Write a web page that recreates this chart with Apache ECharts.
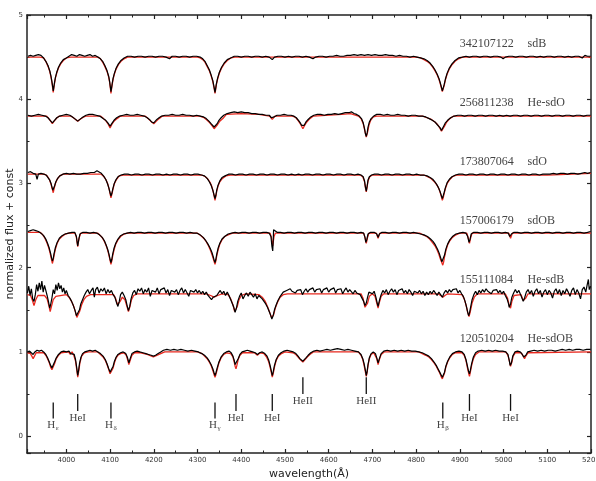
<!DOCTYPE html>
<html><head><meta charset="utf-8">
<script src="https://cdn.jsdelivr.net/npm/echarts@6/dist/echarts.min.js"></script>
<style>html,body{margin:0;padding:0;background:#fff}#c{width:596px;height:481px}</style>
</head><body><div id="c"></div>
<script>
// ---- star labels & vertical offsets (normalized flux + const) ----
const starIds   = ['342107122','256811238','173807064','157006179','155111084','120510204'];
const starTypes = ['sdB','He-sdO','sdO','sdOB','He-sdB','He-sdOB'];
const offsets   = [3.5, 2.8, 2.1, 1.4, 0.7, 0.0];
const labelRise = 1.16;
const idWave = 4900, typeWave = 5055;

// ---- x / y axis ranges ----
const waveMin = 3910, waveMax = 5200;
const fluxMin = -0.2, fluxMax = 5;

// ---- spectral line identifications ----
const lineNames = ['H','HeI','H','H','HeI','HeI','HeII','HeII','H','HeI','HeI'];
const lineSubs  = ['ε','','δ','γ','','','','','β','',''];
const lineWaves = [3970,4026,4102,4340,4388,4471,4541,4686,4861,4922,5016];
const lineBottom = {H:0.21, HeI:0.30, HeII:0.50};
const lineTop    = {H:0.40, HeI:0.50, HeII:0.70};
const lineTextY  = {H:0.13, HeI:0.22, HeII:0.415};

// ---- 342107122 sdB (observed / model), normalized flux ----
const obsA = [[3912,1.01],[3918,1.02],[3924,1.01],[3930,1.02],[3936,1.03],[3942,1.02],[3948,0.99],[3953,0.95],[3958,0.90],[3962,0.84],[3965,0.77],[3967,0.71],[3969,0.64],[3970,0.60],[3971,0.63],[3973,0.70],[3975,0.76],[3978,0.82],[3982,0.88],[3987,0.93],[3993,0.97],[4000,0.99],[4006,1.01],[4012,1.03],[4018,1.02],[4024,1.01],[4030,1.03],[4036,1.02],[4042,1.01],[4048,1.02],[4054,1.03],[4060,1.01],[4066,1.02],[4072,1.00],[4078,0.98],[4083,0.95],[4088,0.90],[4093,0.84],[4097,0.77],[4099,0.71],[4101,0.63],[4102,0.59],[4103,0.62],[4105,0.69],[4107,0.75],[4110,0.81],[4114,0.87],[4119,0.92],[4125,0.96],[4132,0.99],[4140,1.01],[4148,1.01],[4156,1.00],[4164,1.01],[4172,1.01],[4180,1.00],[4188,1.01],[4196,1.01],[4204,1.00],[4212,1.01],[4220,1.01],[4228,1.00],[4236,0.98],[4242,1.01],[4250,1.01],[4258,1.00],[4266,1.01],[4274,1.01],[4282,1.00],[4290,1.01],[4298,1.01],[4306,1.00],[4312,0.98],[4317,0.95],[4322,0.90],[4327,0.85],[4331,0.79],[4335,0.72],[4338,0.64],[4340,0.58],[4341,0.61],[4343,0.68],[4346,0.75],[4350,0.82],[4355,0.88],[4361,0.93],[4368,0.97],[4376,0.99],[4384,1.01],[4392,1.01],[4400,1.00],[4408,1.01],[4416,1.01],[4424,1.00],[4432,1.01],[4440,1.01],[4448,1.00],[4456,1.01],[4464,1.00],[4471,0.97],[4476,1.00],[4484,1.01],[4492,1.01],[4500,1.00],[4508,1.01],[4516,1.00],[4524,1.01],[4532,1.01],[4540,1.00],[4548,1.01],[4556,1.00],[4564,0.98],[4570,1.00],[4578,1.01],[4586,1.01],[4594,1.00],[4602,1.01],[4610,1.01],[4618,1.02],[4626,1.01],[4634,1.01],[4642,1.02],[4650,1.02],[4658,1.03],[4666,1.02],[4674,1.03],[4682,1.02],[4690,1.03],[4698,1.02],[4706,1.03],[4714,1.02],[4722,1.02],[4730,1.03],[4738,1.02],[4746,1.02],[4754,1.01],[4762,1.02],[4770,1.01],[4778,1.01],[4786,1.00],[4794,1.01],[4802,1.00],[4810,0.99],[4818,0.98],[4825,0.96],[4832,0.93],[4838,0.89],[4843,0.85],[4848,0.80],[4852,0.75],[4855,0.70],[4858,0.64],[4860,0.60],[4861,0.60],[4862,0.62],[4864,0.67],[4867,0.74],[4871,0.81],[4876,0.87],[4882,0.92],[4889,0.96],[4897,0.99],[4906,1.00],[4914,1.01],[4922,1.00],[4930,1.01],[4938,1.01],[4946,1.00],[4954,1.01],[4962,1.01],[4970,1.00],[4978,1.01],[4986,1.01],[4994,1.00],[4999,0.98],[5004,1.00],[5012,1.01],[5020,1.01],[5028,1.00],[5036,1.01],[5044,1.01],[5052,1.00],[5060,1.01],[5068,1.01],[5076,1.00],[5084,1.01],[5092,1.00],[5100,1.01],[5108,1.01],[5116,1.00],[5124,1.01],[5132,1.01],[5140,1.00],[5148,1.01],[5156,1.00],[5164,1.01],[5172,1.01],[5180,0.99],[5186,1.02],[5192,1.01],[5199,1.01]];
const modA = [[3912,1.00],[3940,1.00],[3948,0.99],[3953,0.95],[3958,0.89],[3962,0.83],[3965,0.76],[3967,0.70],[3969,0.62],[3970,0.58],[3971,0.62],[3973,0.69],[3975,0.75],[3978,0.81],[3982,0.87],[3987,0.92],[3993,0.96],[4000,0.99],[4010,1.00],[4072,1.00],[4078,0.98],[4083,0.94],[4088,0.89],[4093,0.83],[4097,0.76],[4099,0.70],[4101,0.62],[4102,0.57],[4103,0.61],[4105,0.68],[4107,0.74],[4110,0.80],[4114,0.86],[4119,0.91],[4125,0.95],[4132,0.98],[4140,1.00],[4300,1.00],[4306,0.99],[4312,0.97],[4317,0.94],[4322,0.89],[4327,0.84],[4331,0.78],[4335,0.71],[4338,0.63],[4340,0.57],[4341,0.60],[4343,0.67],[4346,0.74],[4350,0.81],[4355,0.87],[4361,0.92],[4368,0.96],[4376,0.99],[4386,1.00],[4800,1.00],[4810,0.99],[4818,0.97],[4825,0.95],[4832,0.92],[4838,0.88],[4843,0.84],[4848,0.79],[4852,0.74],[4855,0.69],[4858,0.63],[4860,0.59],[4861,0.59],[4862,0.61],[4864,0.66],[4867,0.73],[4871,0.80],[4876,0.86],[4882,0.91],[4889,0.95],[4897,0.98],[4906,1.00],[5200,1.00]];

// ---- 256811238 He-sdO ----
const obsB = [[3912,1.01],[3920,1.00],[3928,1.01],[3936,1.02],[3944,1.01],[3952,1.00],[3958,0.98],[3963,0.95],[3966,0.93],[3968,0.92],[3970,0.93],[3973,0.95],[3978,0.98],[3985,1.00],[3992,1.01],[4000,1.02],[4008,1.01],[4014,0.99],[4019,0.97],[4023,0.95],[4026,0.94],[4029,0.95],[4033,0.97],[4038,0.99],[4045,1.01],[4052,1.02],[4060,1.02],[4068,1.01],[4076,1.00],[4084,0.97],[4090,0.95],[4095,0.92],[4098,0.90],[4100,0.88],[4102,0.89],[4105,0.92],[4109,0.95],[4115,0.98],[4122,1.00],[4130,1.01],[4138,1.02],[4146,1.01],[4154,1.01],[4162,1.02],[4170,1.01],[4178,1.00],[4185,0.98],[4190,0.96],[4195,0.93],[4198,0.92],[4200,0.92],[4203,0.93],[4207,0.96],[4212,0.98],[4218,1.00],[4226,1.01],[4234,1.01],[4242,1.02],[4250,1.01],[4258,1.01],[4266,1.02],[4274,1.01],[4282,1.01],[4290,1.00],[4298,1.01],[4306,1.00],[4314,0.99],[4320,0.97],[4326,0.94],[4331,0.91],[4335,0.89],[4338,0.87],[4340,0.86],[4342,0.88],[4345,0.91],[4349,0.95],[4354,0.98],[4360,1.01],[4368,1.03],[4376,1.04],[4384,1.05],[4392,1.04],[4400,1.05],[4408,1.04],[4416,1.04],[4424,1.03],[4432,1.03],[4440,1.02],[4448,1.02],[4456,1.01],[4464,1.01],[4469,0.98],[4472,0.96],[4475,0.99],[4482,1.01],[4490,1.01],[4498,1.02],[4506,1.01],[4514,1.01],[4520,1.00],[4526,0.98],[4531,0.95],[4535,0.92],[4538,0.89],[4541,0.87],[4544,0.89],[4548,0.93],[4553,0.96],[4559,0.99],[4566,1.01],[4574,1.02],[4582,1.02],[4590,1.01],[4598,1.02],[4606,1.02],[4614,1.03],[4622,1.02],[4630,1.03],[4638,1.04],[4646,1.04],[4652,1.05],[4658,1.03],[4664,1.02],[4670,1.00],[4675,0.97],[4679,0.92],[4682,0.85],[4684,0.79],[4686,0.76],[4688,0.80],[4690,0.87],[4693,0.93],[4697,0.97],[4703,1.00],[4710,1.02],[4718,1.02],[4726,1.01],[4734,1.02],[4742,1.01],[4750,1.01],[4758,1.02],[4766,1.01],[4774,1.01],[4782,1.00],[4790,1.01],[4798,1.01],[4806,1.00],[4814,1.00],[4822,0.99],[4830,0.97],[4837,0.95],[4843,0.93],[4848,0.90],[4852,0.88],[4855,0.86],[4858,0.83],[4860,0.84],[4863,0.88],[4867,0.92],[4872,0.95],[4879,0.98],[4887,1.00],[4895,1.01],[4903,1.01],[4911,1.00],[4919,1.01],[4927,1.01],[4935,1.00],[4943,1.01],[4951,1.01],[4959,1.00],[4967,1.01],[4975,1.01],[4983,1.00],[4991,1.01],[4999,1.00],[5007,1.01],[5015,1.00],[5023,1.01],[5031,1.01],[5039,1.00],[5047,1.01],[5055,1.01],[5063,1.00],[5071,1.01],[5079,1.01],[5087,1.00],[5095,1.01],[5103,1.01],[5111,1.00],[5119,1.01],[5127,1.01],[5135,1.00],[5143,1.01],[5151,1.01],[5159,1.00],[5167,1.01],[5175,1.01],[5183,1.00],[5191,1.01],[5199,1.01]];
const modB = [[3912,1.00],[3955,1.00],[3960,0.97],[3964,0.94],[3968,0.91],[3972,0.94],[3977,0.97],[3984,1.00],[4010,1.00],[4016,0.98],[4021,0.96],[4026,0.94],[4031,0.96],[4037,0.98],[4044,1.00],[4078,1.00],[4085,0.97],[4091,0.94],[4096,0.90],[4100,0.86],[4104,0.90],[4109,0.94],[4116,0.97],[4124,1.00],[4180,1.00],[4187,0.97],[4193,0.94],[4200,0.91],[4206,0.94],[4212,0.97],[4220,1.00],[4305,1.00],[4315,0.98],[4322,0.95],[4328,0.92],[4334,0.88],[4338,0.85],[4340,0.84],[4342,0.86],[4346,0.90],[4351,0.94],[4358,0.97],[4366,1.02],[4400,1.03],[4440,1.02],[4465,1.00],[4471,0.96],[4477,1.00],[4518,1.00],[4525,0.98],[4531,0.94],[4536,0.90],[4541,0.85],[4545,0.89],[4550,0.93],[4557,0.97],[4565,1.00],[4630,1.02],[4650,1.03],[4668,1.00],[4674,0.97],[4679,0.91],[4683,0.82],[4686,0.75],[4689,0.81],[4692,0.89],[4696,0.95],[4702,0.99],[4710,1.00],[4815,1.00],[4825,0.98],[4835,0.96],[4843,0.93],[4849,0.90],[4854,0.86],[4858,0.82],[4861,0.83],[4865,0.88],[4870,0.93],[4877,0.97],[4886,1.00],[5200,1.00]];

// ---- 173807064 sdO ----
const obsC = [[3912,1.03],[3918,1.04],[3924,1.02],[3930,1.01],[3933,0.95],[3936,1.01],[3942,1.02],[3948,1.01],[3954,1.00],[3958,0.98],[3962,0.94],[3965,0.90],[3967,0.86],[3969,0.82],[3970,0.81],[3971,0.83],[3973,0.87],[3976,0.92],[3980,0.96],[3985,0.99],[3992,1.01],[4000,1.02],[4008,1.01],[4016,1.02],[4024,1.01],[4032,1.01],[4040,1.02],[4048,1.02],[4056,1.03],[4064,1.03],[4070,1.05],[4074,1.04],[4080,1.02],[4085,0.99],[4090,0.95],[4094,0.90],[4097,0.85],[4100,0.79],[4102,0.75],[4104,0.78],[4106,0.83],[4109,0.89],[4113,0.94],[4118,0.98],[4125,1.00],[4133,1.01],[4141,1.01],[4149,1.00],[4157,1.01],[4165,1.01],[4173,1.00],[4181,1.01],[4189,1.01],[4197,1.00],[4205,1.01],[4213,1.01],[4221,1.00],[4229,1.01],[4237,1.00],[4245,1.01],[4253,1.01],[4261,1.00],[4269,1.01],[4277,1.01],[4285,1.00],[4293,1.01],[4301,1.01],[4309,1.00],[4316,0.99],[4322,0.96],[4327,0.92],[4331,0.88],[4335,0.82],[4338,0.76],[4340,0.72],[4342,0.76],[4344,0.82],[4347,0.88],[4351,0.93],[4356,0.97],[4363,0.99],[4371,1.01],[4379,1.01],[4387,1.00],[4395,1.01],[4403,1.01],[4411,1.00],[4419,1.01],[4427,1.01],[4435,1.00],[4443,1.01],[4451,1.01],[4459,1.00],[4467,1.01],[4475,1.01],[4483,1.00],[4491,1.01],[4499,1.01],[4507,1.00],[4515,1.01],[4523,1.00],[4531,1.01],[4539,1.00],[4547,1.01],[4555,1.01],[4563,1.00],[4571,1.01],[4579,1.01],[4587,1.00],[4595,1.01],[4603,1.01],[4611,1.00],[4619,1.01],[4627,1.01],[4635,1.00],[4643,1.01],[4651,1.01],[4659,1.00],[4667,1.01],[4674,1.00],[4679,0.98],[4682,0.93],[4684,0.86],[4686,0.81],[4688,0.87],[4690,0.94],[4693,0.98],[4698,1.00],[4705,1.01],[4713,1.01],[4721,1.00],[4729,1.01],[4737,1.01],[4745,1.00],[4753,1.01],[4761,1.01],[4769,1.00],[4777,1.01],[4785,1.01],[4793,1.00],[4801,1.01],[4809,1.00],[4817,1.00],[4825,0.99],[4832,0.97],[4838,0.95],[4843,0.92],[4848,0.88],[4852,0.84],[4855,0.80],[4858,0.75],[4860,0.72],[4862,0.74],[4864,0.79],[4867,0.85],[4871,0.91],[4876,0.95],[4882,0.98],[4890,1.00],[4898,1.01],[4906,1.01],[4914,1.00],[4922,1.01],[4930,1.01],[4938,1.00],[4946,1.01],[4954,1.01],[4962,1.00],[4970,1.01],[4978,1.01],[4986,1.00],[4994,1.01],[5002,1.01],[5010,1.00],[5018,1.01],[5026,1.01],[5034,1.00],[5042,1.01],[5050,1.01],[5058,1.00],[5066,1.01],[5074,1.01],[5082,1.00],[5090,1.01],[5098,1.01],[5106,1.01],[5114,1.02],[5122,1.01],[5130,1.02],[5138,1.02],[5146,1.01],[5154,1.02],[5162,1.02],[5170,1.01],[5178,1.02],[5186,1.03],[5192,1.02],[5199,1.03]];
const modC = [[3912,1.01],[3950,1.01],[3956,0.99],[3961,0.95],[3965,0.89],[3968,0.83],[3970,0.79],[3972,0.84],[3975,0.90],[3979,0.95],[3985,0.99],[3993,1.01],[4080,1.01],[4086,0.98],[4091,0.94],[4095,0.89],[4098,0.83],[4100,0.78],[4102,0.73],[4104,0.77],[4107,0.84],[4110,0.90],[4115,0.95],[4121,0.99],[4130,1.00],[4310,1.00],[4318,0.98],[4324,0.95],[4329,0.91],[4333,0.86],[4336,0.80],[4338,0.75],[4340,0.70],[4342,0.75],[4344,0.81],[4347,0.87],[4351,0.92],[4357,0.96],[4365,0.99],[4375,1.00],[4672,1.00],[4678,0.98],[4682,0.92],[4684,0.85],[4686,0.80],[4688,0.86],[4690,0.93],[4694,0.98],[4700,1.00],[4818,1.00],[4826,0.98],[4834,0.96],[4840,0.93],[4845,0.90],[4850,0.86],[4854,0.81],[4857,0.76],[4860,0.70],[4862,0.73],[4864,0.78],[4867,0.84],[4871,0.90],[4876,0.94],[4883,0.98],[4892,1.00],[5100,1.00],[5200,1.02]];

// ---- 157006179 sdOB ----
const obsD = [[3912,1.03],[3918,1.04],[3924,1.05],[3930,1.04],[3936,1.03],[3942,1.01],[3948,0.98],[3953,0.94],[3957,0.89],[3961,0.83],[3964,0.77],[3966,0.72],[3968,0.68],[3970,0.71],[3972,0.77],[3975,0.84],[3979,0.90],[3984,0.95],[3990,0.98],[3997,1.00],[4005,1.01],[4013,1.02],[4019,1.02],[4023,0.97],[4025,0.89],[4026,0.86],[4028,0.92],[4031,1.00],[4038,1.02],[4046,1.02],[4054,1.01],[4062,1.02],[4070,1.01],[4076,0.99],[4082,0.96],[4087,0.92],[4091,0.87],[4095,0.81],[4098,0.75],[4100,0.70],[4102,0.66],[4104,0.70],[4106,0.76],[4109,0.83],[4113,0.89],[4118,0.94],[4124,0.98],[4131,1.00],[4139,1.01],[4147,1.02],[4155,1.01],[4163,1.02],[4171,1.02],[4179,1.01],[4187,1.02],[4195,1.02],[4203,1.01],[4211,1.02],[4219,1.02],[4227,1.01],[4235,1.02],[4243,1.02],[4251,1.01],[4259,1.02],[4267,1.02],[4275,1.01],[4283,1.02],[4291,1.01],[4299,1.01],[4306,0.99],[4313,0.96],[4319,0.92],[4324,0.88],[4329,0.83],[4333,0.78],[4336,0.73],[4338,0.69],[4340,0.66],[4342,0.70],[4344,0.76],[4347,0.83],[4351,0.89],[4356,0.94],[4362,0.97],[4370,1.00],[4378,1.01],[4386,1.02],[4394,1.01],[4402,1.02],[4410,1.02],[4418,1.01],[4426,1.02],[4434,1.02],[4442,1.01],[4450,1.02],[4458,1.02],[4464,1.01],[4468,0.97],[4470,0.86],[4472,0.80],[4473,0.90],[4474,1.05],[4476,1.03],[4482,1.02],[4490,1.02],[4498,1.01],[4506,1.02],[4514,1.02],[4522,1.01],[4530,1.02],[4538,1.02],[4546,1.01],[4554,1.02],[4562,1.02],[4570,1.01],[4578,1.02],[4586,1.02],[4594,1.01],[4602,1.02],[4610,1.02],[4618,1.01],[4626,1.02],[4634,1.02],[4642,1.01],[4650,1.02],[4658,1.02],[4666,1.01],[4674,1.02],[4680,1.01],[4683,0.96],[4685,0.90],[4687,0.93],[4690,1.00],[4696,1.02],[4704,1.02],[4710,1.00],[4713,0.96],[4716,1.00],[4722,1.02],[4730,1.02],[4738,1.01],[4746,1.02],[4754,1.02],[4762,1.01],[4770,1.02],[4778,1.02],[4786,1.01],[4794,1.02],[4802,1.01],[4810,1.00],[4818,0.99],[4826,0.97],[4833,0.94],[4839,0.91],[4844,0.87],[4849,0.82],[4853,0.77],[4856,0.72],[4859,0.67],[4861,0.65],[4863,0.69],[4865,0.75],[4868,0.82],[4872,0.88],[4877,0.93],[4883,0.97],[4891,1.00],[4899,1.01],[4907,1.02],[4914,1.01],[4918,0.97],[4921,0.90],[4923,0.93],[4926,1.00],[4932,1.02],[4940,1.02],[4948,1.01],[4956,1.02],[4964,1.02],[4972,1.01],[4980,1.02],[4988,1.02],[4996,1.01],[5004,1.02],[5011,1.01],[5014,0.97],[5016,0.96],[5018,1.00],[5024,1.02],[5032,1.02],[5040,1.01],[5048,1.02],[5056,1.02],[5064,1.01],[5072,1.02],[5080,1.02],[5088,1.01],[5096,1.02],[5104,1.02],[5112,1.01],[5120,1.02],[5128,1.02],[5136,1.01],[5144,1.02],[5152,1.02],[5160,1.01],[5168,1.02],[5176,1.02],[5184,1.01],[5192,1.02],[5199,1.03]];
const modD = [[3912,1.02],[3940,1.02],[3946,0.99],[3951,0.95],[3956,0.89],[3960,0.83],[3963,0.77],[3966,0.70],[3968,0.65],[3970,0.69],[3972,0.75],[3975,0.82],[3979,0.89],[3984,0.94],[3990,0.97],[3998,1.00],[4006,1.01],[4020,1.01],[4023,0.96],[4026,0.85],[4029,0.95],[4033,1.01],[4072,1.01],[4078,0.98],[4083,0.95],[4088,0.90],[4092,0.85],[4096,0.78],[4099,0.71],[4102,0.64],[4104,0.68],[4106,0.74],[4109,0.81],[4113,0.88],[4118,0.93],[4124,0.97],[4132,1.00],[4140,1.01],[4300,1.01],[4308,0.98],[4314,0.95],[4320,0.91],[4325,0.86],[4330,0.80],[4334,0.74],[4337,0.69],[4340,0.64],[4342,0.68],[4344,0.74],[4347,0.81],[4351,0.88],[4356,0.93],[4362,0.97],[4370,0.99],[4380,1.01],[4466,1.01],[4469,0.96],[4472,0.86],[4475,0.97],[4478,1.01],[4680,1.01],[4683,0.96],[4686,0.89],[4689,0.96],[4692,1.01],[4709,1.01],[4713,0.95],[4717,1.01],[4808,1.01],[4816,0.99],[4824,0.97],[4831,0.94],[4837,0.90],[4843,0.86],[4848,0.81],[4852,0.76],[4855,0.71],[4858,0.67],[4861,0.63],[4863,0.67],[4865,0.73],[4868,0.80],[4872,0.87],[4877,0.92],[4883,0.96],[4891,0.99],[4900,1.01],[4916,1.01],[4919,0.96],[4922,0.89],[4925,0.96],[4928,1.01],[5012,1.01],[5016,0.95],[5020,1.01],[5200,1.01]];

// ---- 155111084 He-sdB ----
const obsE = [[3911,1.00],[3914,1.08],[3917,0.97],[3920,1.05],[3923,0.93],[3926,0.90],[3929,0.98],[3932,1.10],[3935,1.02],[3938,1.12],[3941,1.04],[3944,1.14],[3947,1.01],[3950,1.09],[3953,1.03],[3956,0.97],[3959,0.90],[3962,0.82],[3964,0.86],[3967,0.94],[3970,1.04],[3973,0.99],[3976,1.10],[3979,1.03],[3982,1.12],[3985,1.05],[3988,1.09],[3991,1.01],[3994,1.06],[3997,0.99],[4000,1.03],[4004,0.97],[4008,0.94],[4012,0.90],[4016,0.85],[4020,0.79],[4023,0.73],[4025,0.71],[4027,0.74],[4030,0.80],[4033,0.87],[4037,0.92],[4041,0.97],[4045,1.01],[4049,1.04],[4053,0.99],[4057,1.03],[4061,1.06],[4064,0.95],[4067,1.04],[4071,1.07],[4075,1.00],[4079,1.05],[4083,1.02],[4087,1.06],[4091,0.99],[4095,1.04],[4099,1.00],[4103,1.03],[4107,0.98],[4111,0.95],[4115,0.88],[4118,0.84],[4121,0.90],[4124,0.98],[4128,1.01],[4132,0.97],[4136,0.92],[4139,0.85],[4142,0.79],[4145,0.84],[4148,0.93],[4152,1.00],[4156,1.03],[4160,0.98],[4164,1.05],[4168,1.02],[4172,1.06],[4176,0.99],[4180,1.04],[4184,1.01],[4188,1.06],[4192,0.96],[4196,1.03],[4200,1.05],[4204,1.01],[4208,1.06],[4212,0.99],[4216,1.04],[4220,1.02],[4224,1.06],[4228,1.00],[4232,1.04],[4236,0.97],[4240,1.03],[4244,1.05],[4248,1.01],[4252,1.04],[4256,0.98],[4260,1.03],[4264,1.06],[4268,1.00],[4272,1.04],[4276,1.02],[4280,0.96],[4284,1.03],[4288,1.05],[4292,1.01],[4296,1.04],[4300,1.00],[4304,1.03],[4308,0.99],[4312,1.02],[4316,0.98],[4320,1.01],[4324,0.97],[4328,0.95],[4332,0.92],[4336,0.95],[4340,0.93],[4344,0.97],[4348,1.00],[4352,1.03],[4356,0.99],[4360,1.02],[4364,0.97],[4368,1.01],[4372,0.97],[4376,0.92],[4380,0.87],[4383,0.83],[4386,0.77],[4389,0.82],[4392,0.90],[4396,0.96],[4400,1.00],[4404,0.93],[4408,0.97],[4412,1.00],[4416,0.96],[4420,1.01],[4424,0.98],[4428,0.95],[4432,0.99],[4436,0.93],[4440,0.97],[4444,0.95],[4448,0.93],[4452,0.90],[4456,0.87],[4460,0.83],[4464,0.78],[4467,0.74],[4470,0.69],[4473,0.73],[4476,0.80],[4480,0.86],[4484,0.91],[4488,0.95],[4492,0.98],[4496,1.01],[4500,0.99],[4504,1.03],[4508,1.01],[4512,1.05],[4516,1.02],[4520,1.04],[4524,1.00],[4528,1.03],[4532,1.01],[4536,1.04],[4540,0.98],[4544,1.02],[4548,1.05],[4552,1.01],[4556,1.04],[4560,1.02],[4564,1.06],[4568,1.01],[4572,1.04],[4576,1.02],[4580,1.05],[4584,1.00],[4588,1.04],[4592,1.02],[4596,1.06],[4600,1.01],[4604,1.04],[4608,1.03],[4612,1.06],[4616,1.00],[4620,1.04],[4624,1.02],[4628,1.05],[4632,0.99],[4636,1.03],[4640,1.06],[4644,1.01],[4648,1.04],[4652,1.02],[4656,0.99],[4660,1.03],[4664,1.00],[4668,1.02],[4672,0.98],[4676,0.96],[4680,0.90],[4683,0.85],[4686,0.88],[4689,0.95],[4692,1.01],[4696,1.03],[4700,0.99],[4704,1.02],[4708,0.95],[4711,0.88],[4713,0.84],[4716,0.91],[4720,0.98],[4724,1.03],[4728,1.00],[4732,1.04],[4736,0.98],[4740,1.02],[4744,1.05],[4748,1.01],[4752,1.04],[4756,0.98],[4760,1.03],[4764,1.01],[4768,1.05],[4772,1.00],[4776,1.03],[4780,0.99],[4784,1.04],[4788,1.01],[4792,0.97],[4796,1.02],[4800,1.04],[4804,1.00],[4808,1.03],[4812,0.99],[4816,1.02],[4820,0.97],[4824,1.01],[4828,0.98],[4832,1.02],[4836,0.99],[4840,1.03],[4844,1.00],[4848,0.97],[4852,1.01],[4856,0.98],[4860,0.95],[4864,1.00],[4868,1.03],[4872,1.00],[4876,1.04],[4880,1.01],[4884,1.04],[4888,1.02],[4892,1.05],[4896,1.00],[4900,1.03],[4904,0.99],[4908,0.96],[4912,0.90],[4915,0.84],[4918,0.77],[4920,0.73],[4922,0.76],[4925,0.84],[4928,0.92],[4932,0.98],[4936,1.02],[4940,0.98],[4944,1.03],[4948,1.00],[4952,1.04],[4956,1.01],[4960,1.05],[4964,1.02],[4968,1.04],[4972,0.99],[4976,1.03],[4980,1.01],[4984,1.04],[4988,1.00],[4992,1.03],[4996,0.99],[5000,1.02],[5004,0.97],[5008,0.93],[5011,0.88],[5013,0.83],[5016,0.87],[5019,0.95],[5023,1.00],[5027,1.04],[5031,1.00],[5035,1.03],[5039,0.98],[5042,0.94],[5045,0.90],[5048,0.94],[5052,1.01],[5056,1.04],[5060,0.99],[5064,1.03],[5068,0.96],[5072,1.02],[5076,1.05],[5080,0.99],[5084,1.03],[5088,0.95],[5092,1.01],[5096,1.04],[5100,0.98],[5104,1.03],[5108,1.00],[5112,0.94],[5116,1.02],[5120,1.05],[5124,0.99],[5128,1.04],[5132,0.97],[5136,1.03],[5140,0.99],[5144,1.05],[5148,1.01],[5152,0.96],[5156,1.03],[5160,1.06],[5164,0.98],[5168,1.04],[5172,1.00],[5176,0.93],[5180,1.04],[5184,1.07],[5188,1.01],[5191,1.09],[5194,1.16],[5196,1.04],[5199,1.08]];
const modE = [[3911,0.98],[3918,0.97],[3922,0.92],[3926,0.85],[3930,0.92],[3935,0.97],[3950,0.97],[3956,0.93],[3960,0.85],[3963,0.78],[3966,0.84],[3970,0.92],[3976,0.96],[4000,0.98],[4006,0.95],[4012,0.90],[4017,0.84],[4021,0.77],[4024,0.71],[4026,0.70],[4028,0.73],[4031,0.79],[4035,0.86],[4040,0.92],[4046,0.96],[4055,0.98],[4108,0.98],[4113,0.93],[4117,0.86],[4120,0.84],[4123,0.90],[4128,0.95],[4134,0.92],[4138,0.85],[4142,0.78],[4145,0.83],[4149,0.92],[4154,0.97],[4162,0.99],[4320,0.99],[4330,0.97],[4338,0.95],[4346,0.97],[4356,0.99],[4370,0.98],[4376,0.93],[4381,0.86],[4385,0.78],[4388,0.77],[4391,0.84],[4395,0.92],[4400,0.97],[4410,0.99],[4440,0.98],[4448,0.95],[4455,0.90],[4460,0.84],[4465,0.77],[4469,0.71],[4471,0.69],[4474,0.74],[4478,0.82],[4483,0.89],[4489,0.95],[4496,0.98],[4506,0.99],[4674,0.99],[4679,0.93],[4683,0.83],[4686,0.81],[4689,0.88],[4693,0.96],[4700,0.99],[4706,0.96],[4710,0.88],[4713,0.82],[4716,0.89],[4720,0.96],[4726,0.99],[4850,0.99],[4856,0.97],[4861,0.95],[4866,0.97],[4872,0.99],[4905,0.98],[4910,0.93],[4914,0.86],[4918,0.77],[4921,0.72],[4924,0.78],[4928,0.88],[4933,0.95],[4940,0.99],[5004,0.99],[5009,0.94],[5013,0.85],[5016,0.82],[5019,0.90],[5024,0.97],[5040,0.98],[5045,0.91],[5048,0.89],[5051,0.94],[5056,0.99],[5200,0.99]];

// ---- 120510204 He-sdOB ----
const obsF = [[3911,1.00],[3916,1.01],[3920,0.99],[3924,0.97],[3928,1.00],[3933,1.02],[3938,1.01],[3943,1.02],[3948,1.00],[3953,0.97],[3957,0.93],[3961,0.88],[3964,0.84],[3967,0.81],[3970,0.83],[3973,0.88],[3977,0.93],[3982,0.97],[3988,1.00],[3994,1.01],[4000,1.00],[4006,1.01],[4010,0.98],[4014,1.00],[4018,0.97],[4021,0.91],[4023,0.84],[4025,0.76],[4026,0.72],[4028,0.78],[4030,0.86],[4033,0.93],[4037,0.98],[4042,1.00],[4048,1.01],[4054,1.02],[4060,1.01],[4066,1.02],[4072,1.00],[4078,0.98],[4084,0.95],[4089,0.91],[4093,0.86],[4097,0.80],[4100,0.76],[4102,0.74],[4104,0.77],[4107,0.83],[4110,0.89],[4114,0.94],[4118,0.97],[4121,0.96],[4124,0.99],[4130,1.00],[4136,0.98],[4140,0.93],[4143,0.87],[4146,0.92],[4150,0.98],[4156,1.00],[4162,1.01],[4168,1.00],[4175,0.99],[4182,0.98],[4188,0.97],[4194,0.96],[4199,0.95],[4204,0.96],[4210,0.98],[4216,1.00],[4222,1.02],[4230,1.03],[4238,1.02],[4246,1.03],[4254,1.02],[4262,1.03],[4270,1.02],[4278,1.01],[4286,1.02],[4294,1.01],[4302,1.00],[4310,0.98],[4316,0.96],[4322,0.93],[4327,0.89],[4331,0.85],[4335,0.80],[4338,0.75],[4340,0.72],[4342,0.75],[4345,0.81],[4349,0.88],[4354,0.94],[4360,0.98],[4366,1.00],[4372,1.01],[4377,0.99],[4381,0.95],[4384,0.90],[4386,0.85],[4388,0.83],[4390,0.86],[4393,0.92],[4397,0.97],[4402,1.00],[4408,1.01],[4414,1.02],[4420,1.01],[4426,1.00],[4432,0.99],[4437,0.97],[4442,0.99],[4448,1.00],[4454,0.98],[4459,0.95],[4463,0.90],[4466,0.84],[4469,0.77],[4471,0.72],[4473,0.76],[4476,0.84],[4480,0.91],[4485,0.96],[4491,0.99],[4498,1.01],[4505,1.02],[4512,1.01],[4519,1.00],[4525,0.98],[4530,0.95],[4534,0.92],[4538,0.90],[4541,0.89],[4544,0.90],[4548,0.93],[4553,0.96],[4559,0.99],[4566,1.01],[4573,1.02],[4580,1.01],[4588,1.02],[4596,1.03],[4604,1.02],[4612,1.03],[4620,1.04],[4628,1.03],[4636,1.02],[4644,1.03],[4652,1.02],[4660,1.01],[4668,1.00],[4674,0.97],[4678,0.92],[4681,0.86],[4684,0.78],[4686,0.72],[4688,0.77],[4690,0.85],[4693,0.93],[4697,0.98],[4702,1.00],[4707,0.98],[4710,0.93],[4713,0.87],[4716,0.92],[4720,0.98],[4726,1.01],[4734,1.02],[4742,1.01],[4750,1.02],[4758,1.01],[4766,1.02],[4774,1.01],[4782,1.02],[4790,1.01],[4798,1.01],[4806,1.00],[4814,0.99],[4822,0.97],[4829,0.95],[4835,0.92],[4841,0.88],[4846,0.84],[4850,0.80],[4854,0.76],[4857,0.73],[4860,0.70],[4862,0.71],[4865,0.76],[4868,0.83],[4872,0.89],[4877,0.94],[4883,0.98],[4890,1.00],[4898,1.01],[4905,1.00],[4910,0.97],[4914,0.91],[4917,0.84],[4920,0.77],[4922,0.74],[4924,0.78],[4927,0.86],[4931,0.94],[4936,0.99],[4942,1.01],[4950,1.02],[4958,1.01],[4966,1.02],[4974,1.01],[4982,1.02],[4990,1.01],[4998,1.01],[5005,1.00],[5010,0.97],[5013,0.90],[5015,0.84],[5016,0.82],[5018,0.87],[5021,0.95],[5026,1.00],[5032,1.01],[5038,1.00],[5043,0.97],[5046,0.94],[5048,0.93],[5051,0.96],[5055,1.00],[5062,1.01],[5070,1.02],[5078,1.01],[5086,1.02],[5094,1.01],[5102,1.02],[5110,1.02],[5118,1.01],[5126,1.02],[5134,1.03],[5142,1.02],[5150,1.03],[5158,1.02],[5166,1.03],[5174,1.03],[5182,1.02],[5190,1.03],[5199,1.03]];
const modF = [[3911,0.99],[3918,0.98],[3921,0.95],[3924,0.92],[3927,0.95],[3931,0.99],[3948,0.99],[3953,0.96],[3957,0.92],[3961,0.87],[3964,0.82],[3967,0.79],[3970,0.81],[3973,0.86],[3977,0.92],[3982,0.96],[3988,0.99],[4005,1.00],[4009,0.97],[4013,1.00],[4017,0.96],[4021,0.89],[4024,0.78],[4026,0.70],[4028,0.76],[4031,0.87],[4035,0.95],[4041,0.99],[4050,1.00],[4072,1.00],[4078,0.97],[4084,0.94],[4089,0.90],[4093,0.85],[4097,0.79],[4100,0.74],[4102,0.72],[4104,0.75],[4107,0.81],[4110,0.87],[4114,0.93],[4118,0.96],[4121,0.95],[4124,0.98],[4132,0.99],[4137,0.96],[4140,0.91],[4143,0.85],[4146,0.90],[4150,0.96],[4156,0.99],[4170,0.99],[4185,0.97],[4199,0.94],[4212,0.97],[4225,1.00],[4300,1.00],[4310,0.98],[4316,0.95],[4322,0.92],[4327,0.88],[4331,0.84],[4335,0.78],[4338,0.73],[4340,0.70],[4342,0.73],[4345,0.79],[4349,0.87],[4354,0.93],[4360,0.97],[4367,0.99],[4376,0.98],[4381,0.94],[4384,0.88],[4386,0.83],[4388,0.80],[4390,0.84],[4393,0.91],[4397,0.96],[4403,0.99],[4430,0.99],[4437,0.96],[4443,0.99],[4452,0.98],[4458,0.94],[4463,0.88],[4466,0.82],[4469,0.75],[4471,0.70],[4473,0.74],[4476,0.82],[4480,0.90],[4485,0.95],[4492,0.98],[4500,1.00],[4518,0.99],[4525,0.97],[4530,0.94],[4535,0.91],[4541,0.88],[4546,0.91],[4551,0.94],[4557,0.97],[4565,1.00],[4668,1.00],[4674,0.96],[4678,0.91],[4681,0.84],[4684,0.76],[4686,0.71],[4688,0.76],[4690,0.84],[4693,0.92],[4697,0.97],[4703,0.99],[4707,0.97],[4710,0.92],[4713,0.85],[4716,0.91],[4720,0.97],[4727,1.00],[4806,1.00],[4814,0.98],[4822,0.96],[4829,0.94],[4835,0.91],[4841,0.87],[4846,0.83],[4850,0.79],[4854,0.75],[4857,0.71],[4860,0.68],[4862,0.70],[4865,0.75],[4868,0.82],[4872,0.88],[4877,0.93],[4883,0.97],[4890,0.99],[4905,0.99],[4910,0.96],[4914,0.90],[4917,0.82],[4920,0.75],[4922,0.71],[4924,0.76],[4927,0.84],[4931,0.92],[4936,0.97],[4944,1.00],[5005,1.00],[5010,0.96],[5013,0.90],[5016,0.83],[5019,0.88],[5022,0.95],[5027,0.99],[5040,0.99],[5044,0.96],[5048,0.92],[5052,0.96],[5056,0.99],[5200,1.00]];

const observed = [obsA, obsB, obsC, obsD, obsE, obsF];
const models   = [modA, modB, modC, modD, modE, modF];

// ---------------------------------------------------------------
const chart = echarts.init(document.getElementById('c'), null, {renderer: 'canvas'});
const AX = '#222';
const serif = '"Liberation Serif", "Times New Roman", serif';
const sans = '"DejaVu Sans", sans-serif';

const series = [];
observed.forEach((obs, i) => {
  const off = offsets[i];
  series.push({
    type: 'line', name: starIds[i] + ' model', xAxisIndex: 0, yAxisIndex: 0,
    data: models[i].map(p => [p[0], p[1] + off]),
    showSymbol: false, symbol: 'none', silent: true, z: 2,
    lineStyle: {color: '#e8281e', width: 1.3}
  });
  series.push({
    type: 'line', name: starIds[i] + ' obs', xAxisIndex: 0, yAxisIndex: 0,
    data: obs.map(p => [p[0], p[1] + off]),
    showSymbol: false, symbol: 'none', silent: true, z: 3,
    lineStyle: {color: '#000', width: 1.2}
  });
});

// star id / type labels
series.push({
  type: 'custom', coordinateSystem: 'cartesian2d', silent: true, z: 5,
  data: offsets.map((o, i) => [idWave, o + labelRise, i]),
  renderItem: (params, api) => {
    const i = api.value(2);
    const p1 = api.coord([idWave, api.value(1)]);
    const p2 = api.coord([typeWave, api.value(1)]);
    return {type: 'group', children: [
      {type: 'text', style: {text: starIds[i], x: p1[0], y: p1[1], align: 'left', verticalAlign: 'middle', font: '12px ' + serif, fill: '#444'}},
      {type: 'text', style: {text: starTypes[i], x: p2[0], y: p2[1], align: 'left', verticalAlign: 'middle', font: '12px ' + serif, fill: '#444'}}
    ]};
  }
});

// line identification markers
series.push({
  type: 'custom', coordinateSystem: 'cartesian2d', silent: true, z: 5,
  data: lineWaves.map((w, i) => [w, lineBottom[lineNames[i]], lineTop[lineNames[i]], lineTextY[lineNames[i]], i]),
  renderItem: (params, api) => {
    const i = api.value(4);
    const a = api.coord([api.value(0), api.value(1)]);
    const b = api.coord([api.value(0), api.value(2)]);
    const t = api.coord([api.value(0), api.value(3)]);
    const children = [{type: 'line', shape: {x1: a[0], y1: a[1], x2: b[0], y2: b[1]}, style: {stroke: '#111', lineWidth: 1.3}}];
    if (lineSubs[i]) {
      children.push({type: 'text', style: {text: lineNames[i], x: t[0] - 2, y: t[1], align: 'center', verticalAlign: 'middle', font: '11px ' + serif, fill: '#444'}});
      children.push({type: 'text', style: {text: lineSubs[i], x: t[0] + 2.5, y: t[1] + 3, align: 'left', verticalAlign: 'middle', font: '7px ' + serif, fill: '#444'}});
    } else {
      children.push({type: 'text', style: {text: lineNames[i], x: t[0], y: t[1], align: 'center', verticalAlign: 'middle', font: '11px ' + serif, fill: '#444'}});
    }
    return {type: 'group', children};
  }
});

const plain = v => String(Math.round(v * 100) / 100);
const xBase = {
  type: 'value', min: waveMin, max: waveMax, splitNumber: 13,
  axisLine: {show: true, onZero: false, lineStyle: {color: AX, width: 1.5}},
  axisTick: {show: true, inside: true, length: 4, lineStyle: {color: AX, width: 1.2}},
  minorTick: {show: true, splitNumber: 2, length: 2.5, lineStyle: {color: AX, width: 1}},
  splitLine: {show: false}, minorSplitLine: {show: false}
};
const yBase = {
  type: 'value', min: fluxMin, max: fluxMax, splitNumber: 5,
  axisLine: {show: true, onZero: false, lineStyle: {color: AX, width: 1.5}},
  axisTick: {show: true, inside: true, length: 4, lineStyle: {color: AX, width: 1.2}},
  minorTick: {show: true, splitNumber: 2, length: 2.5, lineStyle: {color: AX, width: 1}},
  splitLine: {show: false}, minorSplitLine: {show: false}
};

chart.setOption({
  animation: false,
  backgroundColor: '#fff',
  grid: {left: 27, right: 5, top: 15, bottom: 28, containLabel: false, outerBoundsMode: 'none'},
  xAxis: [
    Object.assign({}, xBase, {
      position: 'bottom',
      name: 'wavelength(Å)', nameLocation: 'middle', nameGap: 16, nameMoveOverlap: false,
      nameTextStyle: {fontFamily: sans, fontSize: 11, color: '#222'},
      axisLabel: {show: true, fontSize: 7, color: '#333', margin: 4, fontFamily: sans, formatter: plain,
        showMinLabel: false, showMaxLabel: true, hideOverlap: false}
    }),
    Object.assign({}, xBase, {position: 'top', axisLabel: {show: false}})
  ],
  yAxis: [
    Object.assign({}, yBase, {
      position: 'left',
      name: 'normalized flux + const', nameLocation: 'middle', nameGap: 11, nameRotate: 90, nameMoveOverlap: false,
      nameTextStyle: {fontFamily: sans, fontSize: 11, color: '#222'},
      axisLabel: {show: true, fontSize: 7, color: '#333', margin: 4, fontFamily: sans, formatter: plain,
        showMinLabel: false, showMaxLabel: true, hideOverlap: false}
    }),
    Object.assign({}, yBase, {position: 'right', axisLabel: {show: false}})
  ],
  series
});
</script>
</body></html>
